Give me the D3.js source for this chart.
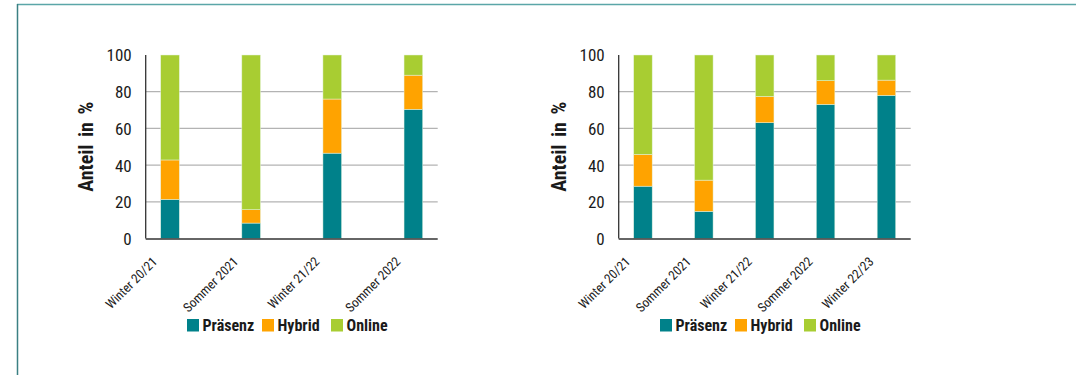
<!DOCTYPE html>
<html><head><meta charset="utf-8">
<script src="https://cdn.jsdelivr.net/npm/d3@7"></script>
<style>
html,body{margin:0;padding:0;background:#fff;}
svg{display:block;}
text{font-family:"Liberation Sans Narrow","Roboto Condensed","DejaVu Sans Condensed",sans-serif;fill:#1a1a1a;}
</style></head>
<body>
<svg id="c" width="1076" height="375"></svg>
<script>
// ---- data ----
const seriesNames = ["Präsenz", "Hybrid", "Online"];
const seriesColors = ["#00818a", "#ffa300", "#a8cd32"];
const yTicks = [0, 20, 40, 60, 80, 100];

const catsA = ["Winter 20/21", "Sommer 2021", "Winter 21/22", "Sommer 2022"];
const presA = [21.3, 8.4, 46.5, 70.4];
const hybA  = [21.5, 7.3, 29.5, 18.6];
const onlA  = [57.2, 84.3, 24.0, 11.0];

const catsB = ["Winter 20/21", "Sommer 2021", "Winter 21/22", "Sommer 2022", "Winter 22/23"];
const presB = [28.5, 14.8, 63.1, 73.1, 78.0];
const hybB  = [17.3, 17.0, 14.3, 12.9, 8.3];
const onlB  = [54.2, 68.2, 22.6, 14.0, 13.7];

const yTitle = "Anteil in %";

// ---- drawing ----
const svg = d3.select("#c");

// frame lines
svg.append("line").attr("x1", 17).attr("x2", 1076).attr("y1", 4.5).attr("y2", 4.5)
  .attr("stroke", "#5ba6a8").attr("stroke-width", 1.5);
svg.append("line").attr("x1", 17.5).attr("x2", 17.5).attr("y1", 4).attr("y2", 375)
  .attr("stroke", "#3b8083").attr("stroke-width", 1.5);

const yTop = 55, yBot = 238.5;
const y = d3.scaleLinear().domain([0, 100]).range([yBot, yTop]);

function drawChart(axisX, cats, pres, hyb, onl, padInner) {
  const axisEnd = axisX + 292;
  const g = svg.append("g");
  const x = d3.scaleBand().domain(cats).range([axisX + 15, axisEnd - 15])
    .paddingInner(padInner).paddingOuter(0);

  // grid + y labels
  const ya = d3.axisLeft(y).tickValues(yTicks).tickSize(0).tickPadding(14);
  const yg = g.append("g").attr("transform", `translate(${axisX},0)`).call(ya);
  yg.select(".domain").remove();
  yg.selectAll("text").style("font-size", "17px").attr("dy", "0.35em");
  g.append("g").selectAll("line").data(yTicks.filter(d => d > 0 && d < 100)).join("line")
    .attr("x1", axisX).attr("x2", axisEnd)
    .attr("y1", d => y(d)).attr("y2", d => y(d))
    .attr("stroke", "#b3b3b3").attr("stroke-width", 1.3);

  // stacked bars
  const rows = cats.map((c, i) => ({cat: c, "Präsenz": pres[i], "Hybrid": hyb[i], "Online": onl[i]}));
  const stack = d3.stack().keys(seriesNames)(rows);
  g.append("g").selectAll("g").data(stack).join("g")
    .attr("fill", (d, i) => seriesColors[i])
    .selectAll("rect").data(d => d).join("rect")
    .attr("x", d => x(d.data.cat))
    .attr("width", x.bandwidth())
    .attr("y", d => y(d[1]))
    .attr("height", d => y(d[0]) - y(d[1]))
    .attr("stroke", "rgba(230,245,225,0.8)").attr("stroke-width", 0.6);

  // axes lines
  g.append("line").attr("x1", axisX).attr("x2", axisX).attr("y1", yTop).attr("y2", yBot)
    .attr("stroke", "#333").attr("stroke-width", 1.3);
  const xa = d3.axisBottom(x).tickSize(0).tickPadding(0);
  const xg = g.append("g").attr("transform", `translate(0,${yBot})`).call(xa);
  xg.select(".domain").attr("d", `M${axisX},0.5H${axisEnd}`).attr("stroke", "#333").attr("stroke-width", 1.5);
  xg.selectAll("text")
    .attr("y", 0).attr("dy", 0).attr("x", 0)
    .attr("transform", "translate(-12,24) rotate(-45)")
    .style("text-anchor", "end").style("font-size", "13px");

  // y title
  g.append("text")
    .attr("transform", `translate(${axisX - 53},${(yTop + yBot) / 2}) rotate(-90)`)
    .attr("text-anchor", "middle")
    .style("font-size", "20px").style("font-weight", "bold").style("word-spacing", "3px")
    .text(yTitle);

  // legend
  const legOffsets = [0, 75, 144];
  const lg = g.append("g").attr("transform", `translate(${axisX + 41.3},319)`);
  const items = lg.selectAll("g").data(seriesNames).join("g")
    .attr("transform", (d, i) => `translate(${legOffsets[i]},0)`);
  items.append("rect").attr("width", 12).attr("height", 12.5)
    .attr("fill", (d, i) => seriesColors[i]);
  items.append("text").attr("x", 15.5).attr("y", 12)
    .style("font-size", "16px").style("font-weight", "bold").text(d => d);
}

drawChart(145.7, catsA, presA, hybA, onlA, 0.77);
drawChart(618.7, catsB, presB, hybB, onlB, 0.696);
</script>
</body></html>
